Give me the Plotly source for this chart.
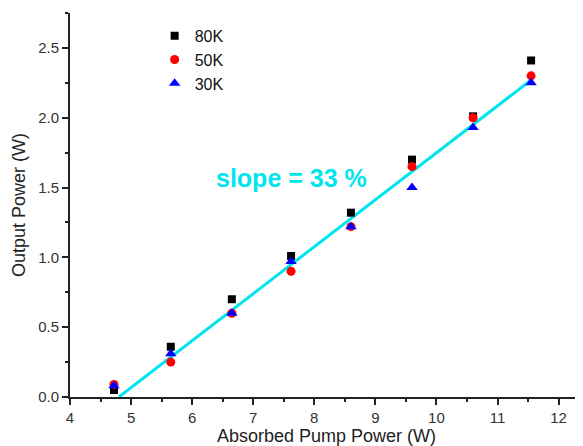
import plotly.graph_objects as go

pump = [4.72, 5.65, 6.65, 7.62, 8.60, 9.60, 10.60, 11.55]
out_80k = [0.05, 0.36, 0.70, 1.01, 1.32, 1.70, 2.01, 2.41]
out_50k = [0.09, 0.25, 0.60, 0.90, 1.22, 1.65, 2.00, 2.30]
out_30k = [0.08, 0.31, 0.60, 0.97, 1.22, 1.50, 1.93, 2.25]

fit_x = [4.80, 11.55]
fit_y = [0.00, 2.27]

fig = go.Figure()
fig.add_trace(go.Scatter(x=fit_x, y=fit_y, mode="lines", line=dict(color="#00e5ee", width=3),
                         showlegend=False, hoverinfo="skip"))
fig.add_trace(go.Scatter(x=pump, y=out_80k, mode="markers", name="80K",
                         marker=dict(symbol="square", color="black", size=8)))
fig.add_trace(go.Scatter(x=pump, y=out_50k, mode="markers", name="50K",
                         marker=dict(symbol="circle", color="red", size=9)))
fig.add_trace(go.Scatter(x=pump, y=out_30k, mode="markers", name="30K",
                         marker=dict(symbol="triangle-up", color="blue", size=10)))

fig.add_annotation(x=7.62, y=1.57, text="<b>slope = 33 %</b>", showarrow=False,
                   font=dict(family="Arial, Liberation Sans", size=25, color="#00e5ee"))

axis_common = dict(showline=True, linecolor="#222", linewidth=2, ticks="outside",
                   ticklen=6, tickwidth=1.5, tickcolor="#222", showgrid=False, zeroline=False,
                   automargin=False,
                   tickfont=dict(family="Arial, Liberation Sans", size=15, color="#333"))

fig.update_layout(
    width=575, height=438,
    margin=dict(l=62, r=0, t=5, b=49),
    plot_bgcolor="white", paper_bgcolor="white",
    font=dict(family="Arial, Liberation Sans", color="#222"),
    xaxis=dict(range=[4, 12.4], dtick=1, tick0=4,
               minor=dict(dtick=0.5, ticks="outside", ticklen=3, tickcolor="#222"),
               title=dict(text="Absorbed Pump Power (W)", font=dict(size=18), standoff=5),
               **axis_common),
    yaxis=dict(range=[0, 2.75], dtick=0.5, tick0=0, tickformat=".1f",
               minor=dict(dtick=0.25, ticks="outside", ticklen=3, tickcolor="#222"),
               title=dict(text="Output Power (W)", font=dict(size=18), standoff=8),
               **axis_common),
    legend=dict(x=0.165, y=0.985, xanchor="left", yanchor="top", bgcolor="rgba(0,0,0,0)",
                font=dict(size=16, family="Arial, Liberation Sans", color="#111"),
                tracegroupgap=0),
)

fig.write_html("out.html")
